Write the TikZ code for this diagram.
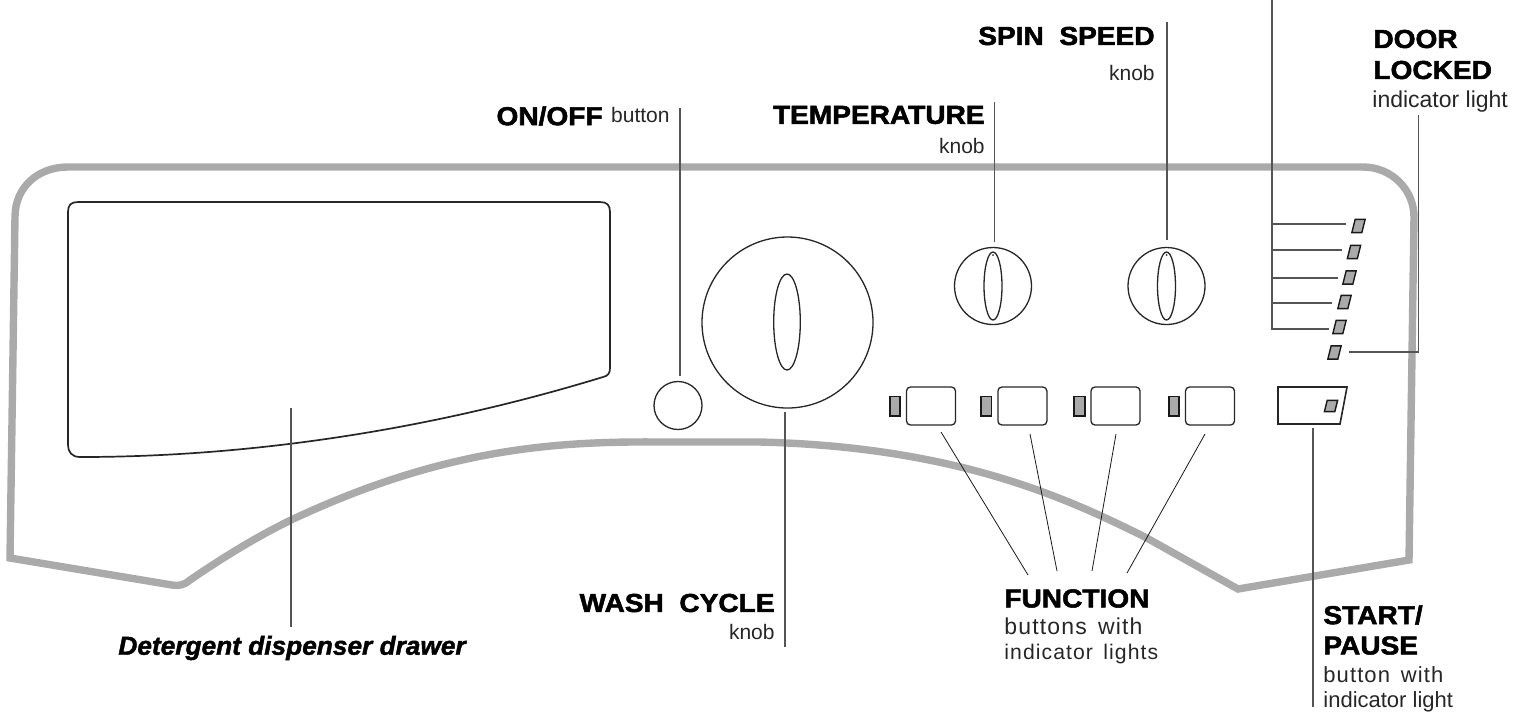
\documentclass[tikz,border=0pt]{standalone}
\usepackage{fontspec}
\setmainfont{Liberation Sans}
\newfontfamily\headfont[FakeStretch=1.08,FakeBold=2,WordSpace=2]{Liberation Sans Bold}
\newfontfamily\drawerfont[FakeStretch=1.01,FakeBold=1.6]{Liberation Sans Bold Italic}
\newfontfamily\widefont[LetterSpace=5,WordSpace=1.5]{Liberation Sans}
\usetikzlibrary{arrows,shapes,positioning,calc}

\definecolor{panelgrey}{HTML}{AAAAAA}
\definecolor{leadergrey}{HTML}{555555}

\tikzset{
    panel/.style={draw=panelgrey, line width=3.7pt},
    outline/.style={draw=black!85, line width=0.65pt},
    knobnode/.style={outline, circle, inner sep=0pt, outer sep=0pt},
    knobmark/.style={outline, ellipse, inner sep=0pt, outer sep=0pt},
    keynode/.style={outline, rectangle, rounded corners=2pt, inner sep=0pt, outer sep=0pt, minimum width=24.5pt, minimum height=19pt},
    lampnode/.style={draw=black!90, fill=panelgrey, line width=0.9pt, rectangle, inner sep=0pt, outer sep=0pt, minimum width=5.2pt, minimum height=9.6pt},
    lampslant/.style={draw=black!90, fill=panelgrey, line width=0.7pt, rectangle, inner sep=0pt, outer sep=0pt, minimum width=5pt, minimum height=6.6pt, xslant=0.25},
    leader/.style={draw=leadergrey, line width=0.6pt},
    funcleader/.style={draw=black!90, line width=0.4pt},
    headtext/.style={font=\headfont\fontsize{13}{15}\selectfont, inner sep=0pt},
    smalltext/.style={font=\fontsize{10.5}{13}\selectfont, text=black!85, inner sep=0pt},
    widetext/.style={font=\widefont\fontsize{11}{13}\selectfont, text=black!85, inner sep=0pt},
}

\begin{document}
\begin{tikzpicture}[x=0.5pt, y=-0.5pt]
    \useasboundingbox (0,0) rectangle (1515,720);

    % Front panel
    \draw[panel] (10,558) -- (15,217) .. controls (15,187) and (38,167) .. (68,167) -- (1363,167)
        .. controls (1392,167) and (1414,190) .. (1414,217) -- (1409,560) -- (1238,589) -- (1145,537)
        .. controls (1070,500) and (960,447) .. (760,442) -- (660,442)
        .. controls (550,441) and (440,450) .. (291,520)
        .. controls (250,540) and (215,563) .. (190,580)
        .. controls (184,585) and (180,586) .. (172,585) -- cycle;

    % Drawer
    \draw[outline, line width=0.85pt] (78,202) -- (600,202) .. controls (607,202) and (610,205) .. (610,212) -- (610,368)
        .. controls (610,373) and (608,376) .. (603,377) .. controls (430,430) and (250,457) .. (80,457)
        .. controls (72,457) and (68,452) .. (68,445) -- (68,212) .. controls (68,205) and (71,202) .. (78,202);

    % Knobs
    \node[knobnode, minimum size=24pt] (onoff) at (678,405.5) {};
    \node[knobnode, minimum size=85.5pt] (washknob) at (787.5,322.5) {};
    \node[knobmark, minimum width=13.3pt, minimum height=48pt] (washmark) at (787,322) {};
    \node[knobnode, minimum size=38.5pt] (tempknob) at (993,286) {};
    \node[knobmark, minimum width=9pt, minimum height=34pt] (tempmark) at (993,286) {};
    \node[knobnode, minimum size=38.5pt] (spinknob) at (1166.5,286) {};
    \node[knobmark, minimum width=9pt, minimum height=34pt] (spinmark) at (1166.5,286) {};
    \node[fill=black!80, circle, inner sep=0pt, minimum size=1pt] (tempdot) at (993,255) {};
    \node[fill=black!80, circle, inner sep=0pt, minimum size=1pt] (spindot) at (1166.5,255) {};

    % Function buttons
    \node[keynode] (key1) at (931,406) {};
    \node[lampnode, left=3.2pt of key1] (keylamp1) {};
    \node[keynode] (key2) at (1022.4,406) {};
    \node[lampnode, left=3.2pt of key2] (keylamp2) {};
    \node[keynode] (key3) at (1115.5,406) {};
    \node[lampnode, left=3.2pt of key3] (keylamp3) {};
    \node[keynode] (key4) at (1210,406) {};
    \node[lampnode, left=3.2pt of key4] (keylamp4) {};

    % Start button
    \draw[outline, line width=0.8pt] (1278,387) -- (1347,387) -- (1340,424) -- (1278,424) -- cycle;
    \node[lampslant, minimum width=5.2pt, minimum height=5.6pt] (startlamp) at (1331,406) {};

    % Indicator lights
    \node[lampslant] (lamp1) at (1358.5,226) {};
    \node[lampslant] (lamp2) at (1354,252) {};
    \node[lampslant] (lamp3) at (1349.5,277.5) {};
    \node[lampslant] (lamp4) at (1344.5,302) {};
    \node[lampslant] (lamp5) at (1339.5,327) {};
    \node[lampslant] (lamp6) at (1334.5,352.5) {};

    % Labels
    \node[headtext, anchor=east] (spinlabel) at (1155,36) {SPIN SPEED};
    \node[smalltext, anchor=east] (spinsub) at (1155,73) {knob};
    \node[headtext, anchor=east] (templabel) at (985,115) {TEMPERATURE};
    \node[smalltext, anchor=east] (tempsub) at (985,146) {knob};
    \node[headtext, anchor=east] (onofflabel) at (603,116) {ON/OFF};
    \node[smalltext, anchor=base east] (onoffsub) at (670,122) {button};
    \node[headtext, anchor=west] (doorlabel) at (1373,39) {DOOR};
    \node[headtext, anchor=west] (doorlabelb) at (1373,70) {LOCKED};
    \node[smalltext, font=\fontsize{11.5}{13}\selectfont, anchor=base west] (doorsub) at (1372,107) {indicator light};
    \node[headtext, anchor=east] (washlabel) at (775,603) {WASH CYCLE};
    \node[smalltext, anchor=east] (washsub) at (775,632) {knob};
    \node[font=\drawerfont\fontsize{13}{15}\selectfont, inner sep=0pt, anchor=west] (drawerlabel) at (118,648) {Detergent dispenser drawer};
    \node[headtext, anchor=west] (funclabel) at (1004,598.5) {FUNCTION};
    \node[widetext, font=\widefont\fontsize{11.5}{13}\selectfont, anchor=base west] (funcsub) at (1004,634) {buttons with};
    \node[widetext, font=\widefont\fontsize{10.6}{13}\selectfont, anchor=base west] (funcsubb) at (1004,659) {indicator lights};
    \node[headtext, anchor=west] (startlabel) at (1323,615) {START/};
    \node[headtext, anchor=west] (startlabelb) at (1323,645.5) {PAUSE};
    \node[widetext, anchor=base west] (startsub) at (1323,682) {button with};
    \node[smalltext, font=\fontsize{11}{13}\selectfont, anchor=base west] (startsubb) at (1323,707) {indicator light};

    % Leader ends
    \coordinate (onofftop) at (680,108);
    \coordinate (onoffend) at (680,376);
    \coordinate (temptop) at (994.5,102);
    \coordinate (tempend) at (994.5,242);
    \coordinate (spintop) at (1167,22);
    \coordinate (spinend) at (1167,240);
    \coordinate (washtop) at (785,412);
    \coordinate (washend) at (785,647);
    \coordinate (drawertop) at (291,408);
    \coordinate (drawerend) at (291,627);
    \coordinate (starttop) at (1313,428);
    \coordinate (startend) at (1313,707);
    \coordinate (functip1) at (941,432);
    \coordinate (funcend1) at (1028,575);
    \coordinate (functip2) at (1030,434);
    \coordinate (funcend2) at (1057,571);
    \coordinate (functip3) at (1116,434);
    \coordinate (funcend3) at (1092,571);
    \coordinate (functip4) at (1205,434);
    \coordinate (funcend4) at (1127,573);
    \coordinate (bustop) at (1272,0);
    \coordinate (busend) at (1272,329);
    \coordinate (tap1) at (1272,224);
    \coordinate (tapend1) at (1346,224);
    \coordinate (tap2) at (1272,250);
    \coordinate (tapend2) at (1342,250);
    \coordinate (tap3) at (1272,278);
    \coordinate (tapend3) at (1338,278);
    \coordinate (tap4) at (1272,303);
    \coordinate (tapend4) at (1332,303);
    \coordinate (tapend5) at (1329,329);
    \coordinate (doortop) at (1418.5,115);
    \coordinate (doorbend) at (1418.5,352);
    \coordinate (doorend) at (1349,352);

    % Leaders
    \draw[leader] (onofftop) -- (onoffend);
    \draw[leader] (temptop) -- (tempend);
    \draw[leader] (spintop) -- (spinend);
    \draw[leader] (washtop) -- (washend);
    \draw[leader] (drawertop) -- (drawerend);
    \draw[leader] (starttop) -- (startend);
    \draw[funcleader] (functip1) -- (funcend1);
    \draw[funcleader] (functip2) -- (funcend2);
    \draw[funcleader] (functip3) -- (funcend3);
    \draw[funcleader] (functip4) -- (funcend4);
    \draw[leader] (bustop) -- (busend) -- (tapend5);
    \draw[leader] (tap1) -- (tapend1);
    \draw[leader] (tap2) -- (tapend2);
    \draw[leader] (tap3) -- (tapend3);
    \draw[leader] (tap4) -- (tapend4);
    \draw[leader] (doortop) -- (doorbend) -- (doorend);
\end{tikzpicture}
\end{document}
